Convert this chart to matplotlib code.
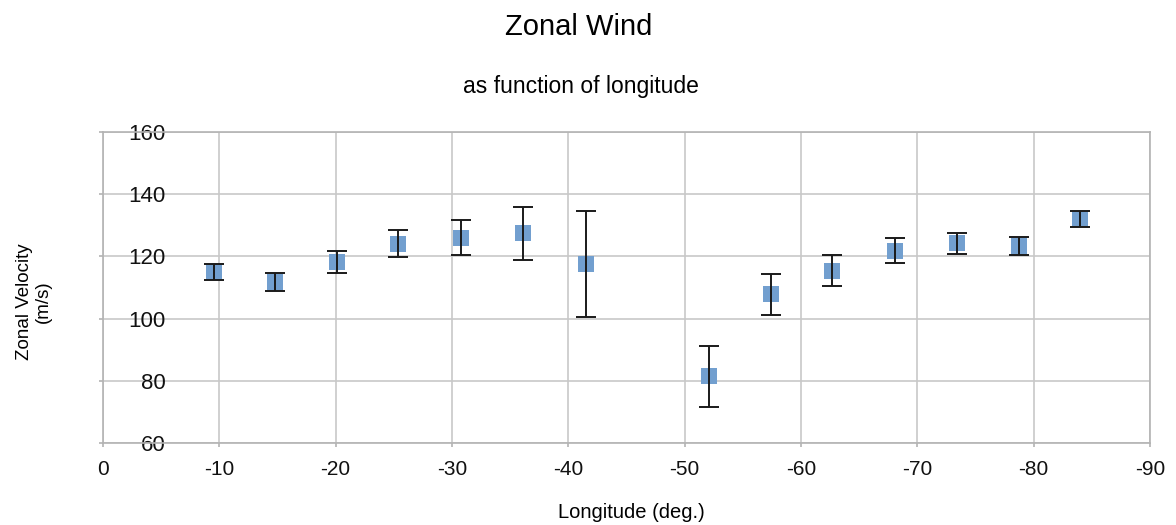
import matplotlib
matplotlib.use("Agg")
import matplotlib.pyplot as plt
import numpy as np

plt.rcParams["font.family"] = ["Liberation Sans", "DejaVu Sans"]

# longitude (deg.), zonal velocity (m/s) and its error
longitude = [-9.5, -14.8, -20.1, -25.4, -30.8, -36.1, -41.5,
             -52.1, -57.4, -62.7, -68.1, -73.4, -78.7, -84.0]
velocity = [115.0, 111.8, 118.2, 124.1, 126.0, 127.4, 117.6,
            81.4, 107.8, 115.4, 121.8, 124.2, 123.3, 132.0]
error = [2.7, 2.8, 3.5, 4.3, 5.7, 8.5, 17.0,
         9.8, 6.6, 4.9, 4.0, 3.3, 2.9, 2.7]

x_ticks = [0, -10, -20, -30, -40, -50, -60, -70, -80, -90]
y_ticks = [60, 80, 100, 120, 140, 160]

fig = plt.figure(figsize=(11.76, 5.25), dpi=100)
ax = fig.add_axes([103 / 1176, 1 - 443 / 525, (1150 - 103) / 1176, (443 - 132) / 525])

ax.errorbar(longitude, velocity, yerr=error, fmt="none", ecolor="#1a1a1a",
            elinewidth=1.4, capsize=7, capthick=1.4, zorder=3)
ax.plot(longitude, velocity, linestyle="none", marker="s", markersize=12,
        color="#729fcf", markeredgewidth=0, zorder=2)

ax.set_xlim(0, -90)
ax.set_ylim(60, 160)
ax.set_xticks(x_ticks)
ax.set_yticks(y_ticks)
ax.set_xticklabels([str(v) for v in x_ticks])
ax.grid(True, color="#c8c8c8", linewidth=1.2)
ax.set_axisbelow(True)
for s in ax.spines.values():
    s.set_color("#b3b3b3")
    s.set_linewidth(1.2)
ax.tick_params(axis="both", color="#b3b3b3", length=3, width=1.2,
               labelcolor="#111111")
ax.tick_params(axis="y", pad=-48, labelsize=16)
ax.tick_params(axis="x", pad=9, labelsize=15)

fig.text(0.492, 1 - 27 / 525, "Zonal Wind", ha="center", va="center", fontsize=21)
fig.text(0.494, 1 - 87 / 525, "as function of longitude", ha="center", va="center",
         fontsize=16.5)
fig.text(0.537, 1 - 513 / 525, "Longitude (deg.)", ha="center", va="center", fontsize=14.5)
fig.text(34 / 1176, 1 - 302 / 525, "Zonal Velocity\n(m/s)", ha="center", va="center",
         rotation=90, fontsize=13.5, linespacing=1.2)

fig.savefig("out.png", dpi=100)
